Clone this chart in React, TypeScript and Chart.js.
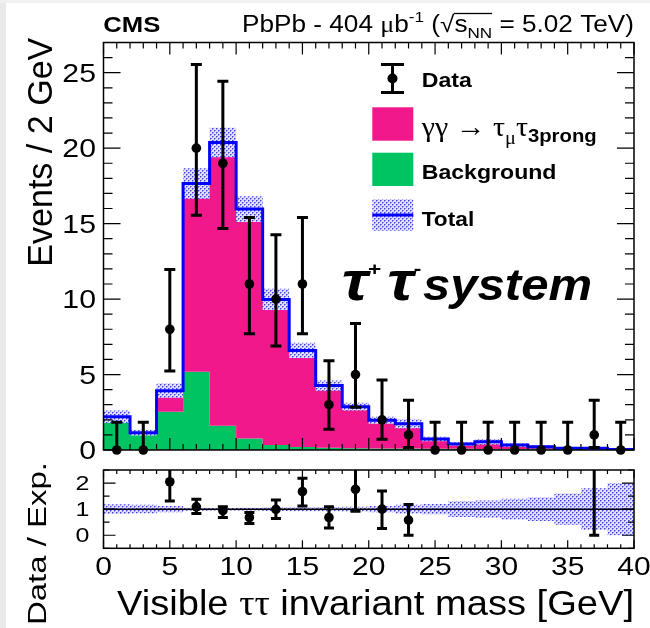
import React, { useEffect, useRef } from "react";
import { Chart, registerables } from "chart.js";
Chart.register(...registerables);

// ---------------- data ----------------
const binEdges = [0, 2, 4, 6, 8, 10, 12, 14, 16, 18, 20, 22, 24, 26, 28, 30, 32, 34, 36, 38, 40];
const background = [2.0, 1.1, 2.54, 5.19, 1.6, 0.77, 0.33, 0.2, 0.15, 0.12, 0.1, 0.1, 0.08, 0.08, 0.07, 0.07, 0.06, 0.06, 0.05, 0.03];
const totalExpected = [2.2, 1.15, 3.93, 17.66, 20.38, 15.96, 9.98, 6.6, 4.27, 2.87, 1.97, 1.74, 0.73, 0.4, 0.55, 0.33, 0.22, 0.12, 0.11, 0.03];
const relUncertainty = [0.19, 0.17, 0.12, 0.057, 0.048, 0.053, 0.07, 0.076, 0.08, 0.09, 0.12, 0.17, 0.2, 0.3, 0.33, 0.4, 0.45, 0.6, 0.8, 1.0];
const dataCounts = [0, 0, 8, 20, 19, 11, 10, 11, 3, 5, 2, 1, 0, 0, 0, 0, 0, 0, 1, 0];
const dataErrUp = [1.84, 1.84, 3.96, 5.55, 5.44, 4.41, 4.27, 4.41, 2.92, 3.38, 2.64, 2.3, 1.84, 1.84, 1.84, 1.84, 1.84, 1.84, 2.3, 1.84];
const dataErrDown = [0, 0, 2.77, 4.44, 4.32, 3.29, 3.11, 3.29, 1.63, 2.16, 1.29, 0.83, 0, 0, 0, 0, 0, 0, 0.83, 0];
const ratioX = [5, 7, 9, 11, 13, 15, 17, 19, 21, 23, 37];
const ratioValues = [2.05, 1.09, 0.94, 0.68, 0.99, 1.67, 0.68, 1.76, 1.0, 0.58, 9.0];
const ratioHigh = [3.05, 1.38, 1.09, 0.87, 1.35, 2.18, 1.09, 2.9, 1.7, 1.18, 20.0];
const ratioLow = [1.31, 0.83, 0.68, 0.45, 0.64, 1.12, 0.28, 0.92, 0.26, 0.0, 0.0];
const xTickLabels = [0, 5, 10, 15, 20, 25, 30, 35, 40];
const mainYTickLabels = [0, 5, 10, 15, 20, 25];
const ratioYTickLabels = [0, 1, 2];

const X_MIN = 0;
const X_MAX = 40;
const Y_MAX = 27;
const R_MIN = -0.5;
const R_MAX = 2.5;

// ---------------- style ----------------
const PINK = "#f0188a";
const GREEN = "#00c462";
const BLUE = "#0000ff";
const SANS = "'Liberation Sans', Arial, Helvetica, sans-serif";
const SERIF = "'Liberation Serif', 'DejaVu Serif', serif";

const binCenters = binEdges.slice(0, -1).map((e, i) => (e + binEdges[i + 1]) / 2);

function stepPoints(vals: number[]) {
  const pts: { x: number; y: number }[] = [];
  vals.forEach((v, i) => {
    pts.push({ x: binEdges[i], y: v });
    pts.push({ x: binEdges[i + 1], y: v });
  });
  return pts;
}

function makePattern(): CanvasPattern | string {
  const pc = document.createElement("canvas");
  pc.width = 4;
  pc.height = 4;
  const g = pc.getContext("2d");
  if (!g) return "#c8c8f4";
  g.fillStyle = "#e0e0fa";
  g.fillRect(0, 0, 4, 4);
  g.fillStyle = "#4444d8";
  g.fillRect(0, 0, 1, 1);
  g.fillRect(2, 2, 1, 1);
  g.fillStyle = "#8c8cea";
  g.fillRect(1, 0, 1, 1);
  g.fillRect(3, 2, 1, 1);
  g.fillRect(0, 1, 1, 1);
  g.fillRect(2, 3, 1, 1);
  const p = g.createPattern(pc, "repeat");
  return p || "#c8c8f4";
}

type Run = { t: string; font: string; dy?: number; over?: boolean; gap?: number };

function drawRuns(
  ctx: CanvasRenderingContext2D,
  runs: Run[],
  x: number,
  y: number,
  align: "left" | "right" | "center",
  opts: { width?: number; sx?: number; rotate?: number } = {}
) {
  let w = 0;
  const widths: number[] = [];
  for (const r of runs) {
    ctx.font = r.font;
    const rw = ctx.measureText(r.t).width + (r.gap || 0);
    widths.push(rw);
    w += rw;
  }
  const sx = opts.width ? opts.width / w : opts.sx ?? 1;
  ctx.save();
  ctx.translate(x, y);
  if (opts.rotate) ctx.rotate(opts.rotate);
  ctx.scale(sx, 1);
  ctx.textAlign = "left";
  ctx.textBaseline = "alphabetic";
  ctx.fillStyle = "#000";
  let cx = align === "left" ? 0 : align === "right" ? -w : -w / 2;
  runs.forEach((r, i) => {
    ctx.font = r.font;
    ctx.fillText(r.t, cx, r.dy || 0);
    if (r.over) {
      ctx.strokeStyle = "#000";
      ctx.lineWidth = 1.3;
      ctx.beginPath();
      ctx.moveTo(cx - 0.5, -18);
      ctx.lineTo(cx + widths[i], -18);
      ctx.stroke();
    }
    cx += widths[i];
  });
  ctx.restore();
}

function text(ctx: CanvasRenderingContext2D, t: string, font: string, x: number, y: number, align: "left" | "right" | "center", sx: number) {
  drawRuns(ctx, [{ t, font }], x, y, align, { sx });
}

function errorBars(dsIndex: number, lows: number[], highs: number[], drawLowCap: boolean[], capW: number, lw: number, clip: boolean) {
  return {
    id: "errorBars" + dsIndex,
    beforeDatasetDraw(chart: any, args: any) {
      if (args.index !== dsIndex) return;
      const meta = chart.getDatasetMeta(dsIndex);
      const { ctx, chartArea: a } = chart;
      const ys = chart.scales.y;
      ctx.save();
      if (clip) {
        ctx.beginPath();
        ctx.rect(a.left, a.top, a.right - a.left, a.bottom - a.top);
        ctx.clip();
      }
      ctx.strokeStyle = "#000";
      ctx.lineWidth = lw;
      ctx.lineCap = "butt";
      meta.data.forEach((pt: any, i: number) => {
        const px = pt.x;
        const yLo = ys.getPixelForValue(lows[i]);
        const yHi = ys.getPixelForValue(highs[i]);
        ctx.beginPath();
        ctx.moveTo(px, yLo);
        ctx.lineTo(px, yHi);
        ctx.moveTo(px - capW / 2, yHi);
        ctx.lineTo(px + capW / 2, yHi);
        if (drawLowCap[i]) {
          ctx.moveTo(px - capW / 2, yLo);
          ctx.lineTo(px + capW / 2, yLo);
        }
        ctx.stroke();
      });
      ctx.restore();
    },
  };
}

function frameTicks(
  chart: any,
  yMin: number,
  yMax: number,
  yMinorStep: number,
  isMajorY: (v: number) => boolean,
  yMajorLen: number,
  yMinorLen: number,
  xMajorLen: number,
  xMinorLen: number
) {
  const { ctx, chartArea: a } = chart;
  const xs = chart.scales.x;
  const ys = chart.scales.y;
  ctx.save();
  ctx.strokeStyle = "#000";
  ctx.lineWidth = 1.2;
  ctx.beginPath();
  const nY = Math.round((yMax - yMin) / yMinorStep);
  for (let k = 0; k <= nY; k++) {
    const v = yMin + k * yMinorStep;
    const py = ys.getPixelForValue(v);
    const len = isMajorY(v) ? yMajorLen : yMinorLen;
    ctx.moveTo(a.left, py);
    ctx.lineTo(a.left + len, py);
    ctx.moveTo(a.right, py);
    ctx.lineTo(a.right - len, py);
  }
  for (let v = X_MIN; v <= X_MAX; v++) {
    const px = xs.getPixelForValue(v);
    const len = v % 5 === 0 ? xMajorLen : xMinorLen;
    ctx.moveTo(px, a.bottom);
    ctx.lineTo(px, a.bottom - len);
    ctx.moveTo(px, a.top);
    ctx.lineTo(px, a.top + len);
  }
  ctx.stroke();
  ctx.lineWidth = 1.5;
  ctx.strokeRect(a.left, a.top, a.right - a.left, a.bottom - a.top);
  ctx.restore();
}

function mainDecor(pattern: CanvasPattern | string) {
  return {
    id: "mainDecor",
    afterDraw(chart: any) {
      const { ctx } = chart;
      const ys = chart.scales.y;
      frameTicks(chart, 0, Y_MAX, 1, (v) => v % 5 === 0, 17, 9, 12, 6);

      for (const v of mainYTickLabels) {
        const py = ys.getPixelForValue(v);
        text(ctx, String(v), `25px ${SANS}`, 96, py + 9, "right", 1.21);
      }
      drawRuns(ctx, [{ t: "Events / 2 GeV", font: `35px ${SANS}` }], 51.7, 266.7, "left", { width: 229, rotate: -Math.PI / 2 });

      drawRuns(ctx, [{ t: "CMS", font: `bold 22px ${SANS}` }], 103.3, 31.5, "left", { width: 57 });
      drawRuns(
        ctx,
        [
          { t: "PbPb - 404 ", font: `23px ${SANS}` },
          { t: "μ", font: `23px ${SERIF}` },
          { t: "b", font: `23px ${SANS}` },
          { t: "-1", font: `15px ${SANS}`, dy: -10 },
          { t: " (", font: `23px ${SANS}` },
          { t: "√", font: `23px ${SANS}` },
          { t: "s", font: `23px ${SANS}`, over: true },
          { t: "NN", font: `15px ${SANS}`, dy: 6, over: true },
          { t: " = 5.02 TeV)", font: `23px ${SANS}` },
        ],
        634,
        31.5,
        "right",
        { width: 392 }
      );

      ctx.save();
      ctx.strokeStyle = "#000";
      ctx.lineWidth = 3;
      ctx.beginPath();
      ctx.moveTo(392.5, 64);
      ctx.lineTo(392.5, 93);
      ctx.moveTo(381, 64.5);
      ctx.lineTo(404, 64.5);
      ctx.moveTo(381, 92.5);
      ctx.lineTo(404, 92.5);
      ctx.stroke();
      ctx.fillStyle = "#000";
      ctx.beginPath();
      ctx.arc(392.5, 78.5, 5, 0, Math.PI * 2);
      ctx.fill();
      ctx.fillStyle = PINK;
      ctx.fillRect(372.3, 107.3, 41, 33.4);
      ctx.fillStyle = GREEN;
      ctx.fillRect(372.3, 152.7, 41, 33.3);
      ctx.fillStyle = pattern as any;
      ctx.fillRect(372.3, 199.3, 41, 31.4);
      ctx.fillStyle = BLUE;
      ctx.fillRect(372.3, 213.5, 41, 3);
      ctx.restore();

      text(ctx, "Data", `bold 21px ${SANS}`, 421.7, 87, "left", 1.1);
      drawRuns(
        ctx,
        [
          { t: "γγ", font: `28px ${SERIF}` },
          { t: " → ", font: `28px ${SERIF}` },
          { t: "τ", font: `28px ${SERIF}` },
          { t: "μ", font: `19px ${SERIF}`, dy: 8 },
          { t: "τ", font: `28px ${SERIF}` },
          { t: "3prong", font: `bold 19px ${SANS}`, dy: 6 },
        ],
        421.7,
        136,
        "left",
        { width: 175 }
      );
      text(ctx, "Background", `bold 21px ${SANS}`, 421.7, 179, "left", 1.1);
      text(ctx, "Total", `bold 21px ${SANS}`, 421.7, 225.5, "left", 1.08);

      drawRuns(
        ctx,
        [
          { t: "τ", font: `italic bold 54px ${SANS}` },
          { t: "+", font: `bold 19px ${SANS}`, dy: -25, gap: 5 },
          { t: "τ", font: `italic bold 54px ${SANS}` },
          { t: "-", font: `bold 19px ${SANS}`, dy: -25, gap: 2 },
        ],
        341.7,
        300,
        "left",
        { width: 82 }
      );
      drawRuns(ctx, [{ t: "system", font: `italic bold 44px ${SANS}` }], 423, 300, "left", { width: 169 });
    },
  };
}

function ratioDecor() {
  return {
    id: "ratioDecor",
    afterDraw(chart: any) {
      const { ctx } = chart;
      const xs = chart.scales.x;
      const ys = chart.scales.y;
      frameTicks(chart, R_MIN, R_MAX, 0.5, (v) => Math.abs(v - Math.round(v)) < 1e-6, 12, 6, 8, 4);
      for (const v of ratioYTickLabels) {
        const py = ys.getPixelForValue(v);
        text(ctx, String(v), `20px ${SANS}`, 89.5, py + 7.2, "right", 1.25);
      }
      for (const v of xTickLabels) {
        const px = xs.getPixelForValue(v);
        text(ctx, String(v), `25px ${SANS}`, px, 106 + 9, "center", 1.2);
      }
      drawRuns(
        ctx,
        [
          { t: "Visible ", font: `35px ${SANS}` },
          { t: "ττ", font: `35px ${SERIF}` },
          { t: " invariant mass [GeV]", font: `35px ${SANS}` },
        ],
        634,
        155,
        "right",
        { width: 517 }
      );
      drawRuns(ctx, [{ t: "Data / Exp.", font: `26px ${SANS}` }], 46, 165, "left", { width: 163, rotate: -Math.PI / 2 });
    },
  };
}

const lineBase = { pointRadius: 0, pointHoverRadius: 0, tension: 0, borderJoinStyle: "miter" as const };

function mainConfig(pattern: CanvasPattern | string): any {
  const up = totalExpected.map((t, i) => t * (1 + relUncertainty[i]));
  const dn = totalExpected.map((t, i) => Math.max(0, t * (1 - relUncertainty[i])));
  return {
    type: "line",
    data: {
      datasets: [
        { ...lineBase, label: "signal", data: stepPoints(totalExpected), fill: 1, backgroundColor: PINK, borderColor: "transparent", borderWidth: 0, order: 5 },
        { ...lineBase, label: "background", data: stepPoints(background), fill: "origin", backgroundColor: GREEN, borderColor: "transparent", borderWidth: 0, order: 6 },
        { ...lineBase, label: "uncUp", data: stepPoints(up), fill: 3, backgroundColor: pattern, borderColor: "transparent", borderWidth: 0, order: 4 },
        { ...lineBase, label: "uncDown", data: stepPoints(dn), fill: false, borderColor: "transparent", borderWidth: 0, order: 4 },
        { ...lineBase, label: "total", data: stepPoints(totalExpected), fill: false, borderColor: BLUE, borderWidth: 3, order: 2 },
        {
          label: "data",
          data: binCenters.map((c, i) => ({ x: c, y: dataCounts[i] })),
          showLine: false,
          pointRadius: 4.8,
          pointHoverRadius: 4.8,
          pointBackgroundColor: "#000",
          pointBorderColor: "#000",
          pointBorderWidth: 0,
          clip: false,
          order: 1,
        },
      ],
    },
    options: {
      animation: false,
      responsive: false,
      maintainAspectRatio: false,
      events: [],
      layout: { padding: { left: 103.5, right: 16, top: 42.5, bottom: 10 } },
      scales: {
        x: { type: "linear", min: X_MIN, max: X_MAX, display: false },
        y: { type: "linear", min: 0, max: Y_MAX, display: false },
      },
      plugins: { legend: { display: false }, tooltip: { enabled: false } },
    },
    plugins: [
      errorBars(
        5,
        dataCounts.map((n, i) => n - dataErrDown[i]),
        dataCounts.map((n, i) => n + dataErrUp[i]),
        dataErrDown.map((d) => d > 0),
        11,
        3,
        false
      ),
      mainDecor(pattern),
    ],
  };
}

function ratioConfig(pattern: CanvasPattern | string): any {
  return {
    type: "line",
    data: {
      datasets: [
        { ...lineBase, label: "bandUp", data: stepPoints(relUncertainty.map((r) => 1 + r)), fill: 1, backgroundColor: pattern, borderColor: "transparent", borderWidth: 0, order: 3 },
        { ...lineBase, label: "bandDown", data: stepPoints(relUncertainty.map((r) => 1 - r)), fill: false, borderColor: "transparent", borderWidth: 0, order: 3 },
        { ...lineBase, label: "unity", data: [{ x: X_MIN, y: 1 }, { x: X_MAX, y: 1 }], fill: false, borderColor: "#000", borderWidth: 1.5, order: 2 },
        {
          label: "ratio",
          data: ratioX.map((x, i) => ({ x, y: ratioValues[i] })),
          showLine: false,
          pointRadius: 4.8,
          pointHoverRadius: 4.8,
          pointBackgroundColor: "#000",
          pointBorderColor: "#000",
          pointBorderWidth: 0,
          order: 1,
        },
      ],
    },
    options: {
      animation: false,
      responsive: false,
      maintainAspectRatio: false,
      events: [],
      layout: { padding: { left: 103.5, right: 16, top: 10, bottom: 79.7 } },
      scales: {
        x: { type: "linear", min: X_MIN, max: X_MAX, display: false },
        y: { type: "linear", min: R_MIN, max: R_MAX, display: false },
      },
      plugins: { legend: { display: false }, tooltip: { enabled: false } },
    },
    plugins: [errorBars(3, ratioLow, ratioHigh, ratioLow.map(() => true), 10, 3, true), ratioDecor()],
  };
}

export default function App() {
  const mainRef = useRef<HTMLCanvasElement>(null);
  const ratioRef = useRef<HTMLCanvasElement>(null);
  useEffect(() => {
    const pattern = makePattern();
    const c1 = new Chart(mainRef.current as HTMLCanvasElement, mainConfig(pattern));
    const c2 = new Chart(ratioRef.current as HTMLCanvasElement, ratioConfig(pattern));
    return () => {
      c1.destroy();
      c2.destroy();
    };
  }, []);
  return (
    <div style={{ position: "absolute", left: 0, top: 0, width: 650, height: 628, background: "#fff", overflow: "hidden" }}>
      <div style={{ position: "absolute", left: 0, top: 0, width: 6, height: 628, background: "#e9e9e9" }} />
      <div style={{ position: "absolute", left: 0, top: 0, width: 650, height: 3, background: "#f1f1f1" }} />
      <canvas ref={mainRef} width={650} height={460} style={{ position: "absolute", left: 0, top: 0, width: 650, height: 460 }} />
      <canvas ref={ratioRef} width={650} height={168} style={{ position: "absolute", left: 0, top: 460, width: 650, height: 168 }} />
    </div>
  );
}
